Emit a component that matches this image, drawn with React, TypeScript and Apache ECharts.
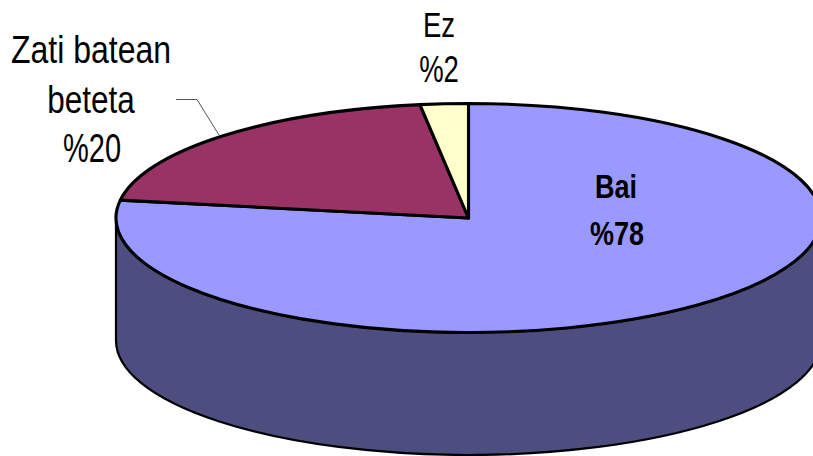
import React, { useEffect, useRef } from "react";
import * as echarts from "echarts";

const categories = ["Bai", "Zati batean beteta", "Ez"];
const sliceValues = [77.5, 20.3, 2.2];
const sliceColors = ["#9999FF", "#993366", "#FFFFCC"];
const wallColors = ["#4D4D80", "#4D1A33", "#808066"];
const labelLines = [
  ["Bai"],
  ["Zati batean", "beteta"],
  ["Ez"],
];

const CX = 468.5;
const CY = 218;
const RX = 352.5;
const RY = 114.5;
const DEPTH = 122.5;

// per-line layout: centre x, baseline y, font size, vertical stretch
const labelLayout = [
  [
    { x: 616, y: 198, size: 27, stretch: 1.25, weight: "bold" },
    { x: 617, y: 245, size: 27, stretch: 1.25, weight: "bold" },
  ],
  [
    { x: 91, y: 64, size: 32, stretch: 1.24, weight: "normal" },
    { x: 91, y: 114, size: 31.5, stretch: 1.26, weight: "normal" },
    { x: 92, y: 162, size: 29, stretch: 1.38, weight: "normal" },
  ],
  [
    { x: 439, y: 38.5, size: 27.5, stretch: 1.3, weight: "normal" },
    { x: 439, y: 83, size: 27.5, stretch: 1.32, weight: "normal" },
  ],
];
const DESCENT = 0.135;
const leaderPoints = [
  [176, 99.5],
  [197, 99.5],
  [219, 135],
];

const pt = (deg: number, dy = 0) => {
  const t = (deg * Math.PI) / 180;
  return [CX + RX * Math.sin(t), CY - RY * Math.cos(t) + dy];
};

const renderItem = (params: any, api: any) => {
  const i = params.dataIndex;
  const total = sliceValues.reduce((a, b) => a + b, 0);
  const before = sliceValues.slice(0, i).reduce((a, b) => a + b, 0);
  const value = api.value(0);
  const a0 = (before / total) * 360;
  const a1 = ((before + value) / total) * 360;
  const children: any[] = [];

  const w0 = Math.max(a0, 90);
  const w1 = Math.min(a1, 270);
  if (w1 > w0) {
    const [x0, y0] = pt(w0);
    const [x1, y1] = pt(w1);
    const [x2, y2] = pt(w1, DEPTH);
    const [x3, y3] = pt(w0, DEPTH);
    children.push({
      type: "path",
      shape: {
        pathData: `M${x0} ${y0}A${RX} ${RY} 0 0 1 ${x1} ${y1}L${x2} ${y2}A${RX} ${RY} 0 0 0 ${x3} ${y3}Z`,
      },
      style: { fill: wallColors[i], stroke: "#000", lineWidth: 2.2 },
    });
  }

  const [sx, sy] = pt(a0);
  const [ex, ey] = pt(a1);
  const large = a1 - a0 > 180 ? 1 : 0;
  children.push({
    type: "path",
    shape: {
      pathData: `M${CX} ${CY}L${sx} ${sy}A${RX} ${RY} 0 ${large} 1 ${ex} ${ey}Z`,
    },
    style: { fill: sliceColors[i], stroke: "#000", lineWidth: 3.1, lineJoin: "round" },
  });

  if (i === 1) {
    children.push({
      type: "polyline",
      shape: { points: leaderPoints },
      style: { fill: "none", stroke: "#555", lineWidth: 1 },
    });
  }

  const lines = [...labelLines[i], `%${Math.round(value)}`];
  lines.forEach((text, k) => {
    const l = labelLayout[i][k];
    children.push({
      type: "text",
      x: l.x,
      y: l.y + l.size * l.stretch * DESCENT,
      scaleY: l.stretch,
      style: {
        text,
        x: 0,
        y: 0,
        fill: "#000",
        textAlign: "center",
        textVerticalAlign: "bottom",
        fontFamily: "Liberation Sans",
        fontSize: l.size,
        fontWeight: l.weight,
      },
    });
  });

  return { type: "group", children };
};

export default function App() {
  const ref = useRef<HTMLDivElement>(null);
  useEffect(() => {
    const chart = echarts.init(ref.current!, undefined, { renderer: "svg" });
    chart.setOption({
      animation: false,
      backgroundColor: "#fff",
      series: [
        {
          type: "custom",
          coordinateSystem: "none",
          silent: true,
          clip: false,
          renderItem,
          data: sliceValues.map((v, i) => ({ name: categories[i], value: [v] })),
        },
      ],
    });
    return () => chart.dispose();
  }, []);
  return (
    <div
      ref={ref}
      style={{ position: "fixed", left: 0, top: 0, width: 813, height: 456 }}
    />
  );
}
